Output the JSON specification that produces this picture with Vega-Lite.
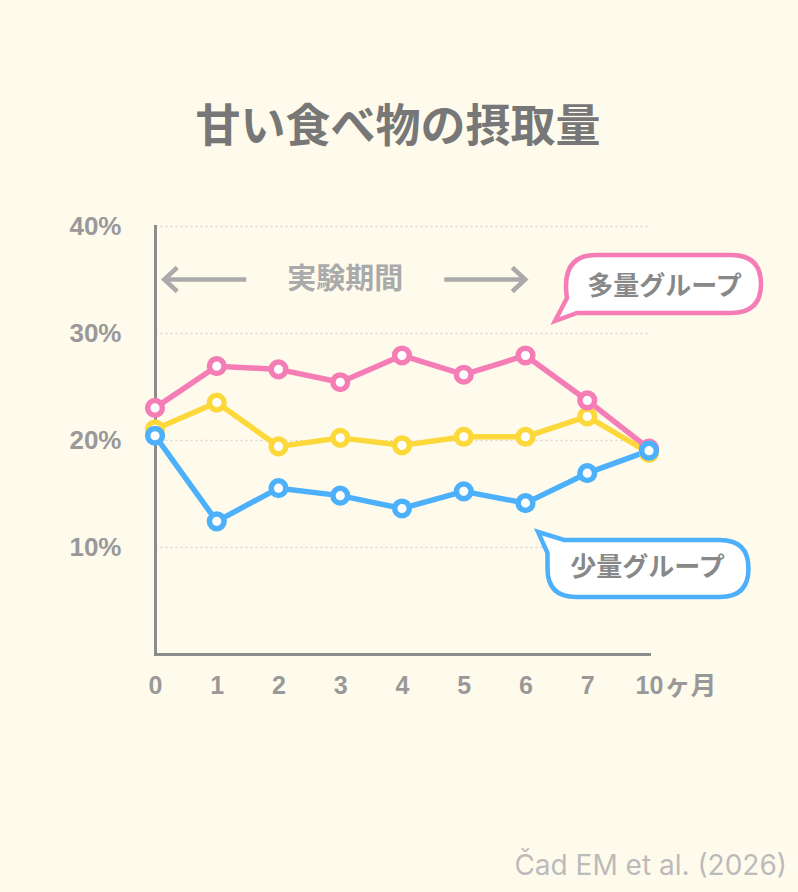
{
  "$schema": "https://vega.github.io/schema/vega-lite/v6.json",
  "description": "甘い食べ物の摂取量: three groups over 10 months",
  "autosize": {"type": "none"},
  "width": 494,
  "height": 428,
  "padding": {"left": 155, "top": 226, "right": 149, "bottom": 238},
  "background": "#fffbec",
  "config": {"view": {"stroke": null}},
  "title": {
    "text": "甘い食べ物の摂取量",
    "font": "Noto Sans CJK JP",
    "fontSize": 45,
    "fontWeight": "bold",
    "color": "#777777",
    "anchor": "middle",
    "frame": "group",
    "offset": 62,
    "dx": -4
  },
  "layer": [
    {
      "data": {
        "values": [
          {"month": 0, "group": "中間グループ", "value": 21.0},
          {"month": 1, "group": "中間グループ", "value": 23.5},
          {"month": 2, "group": "中間グループ", "value": 19.4},
          {"month": 3, "group": "中間グループ", "value": 20.2},
          {"month": 4, "group": "中間グループ", "value": 19.5},
          {"month": 5, "group": "中間グループ", "value": 20.3},
          {"month": 6, "group": "中間グループ", "value": 20.3},
          {"month": 7, "group": "中間グループ", "value": 22.2},
          {"month": 10, "group": "中間グループ", "value": 18.8},
          {"month": 0, "group": "多量グループ", "value": 23.0},
          {"month": 1, "group": "多量グループ", "value": 26.9},
          {"month": 2, "group": "多量グループ", "value": 26.6},
          {"month": 3, "group": "多量グループ", "value": 25.4},
          {"month": 4, "group": "多量グループ", "value": 27.9},
          {"month": 5, "group": "多量グループ", "value": 26.1},
          {"month": 6, "group": "多量グループ", "value": 27.9},
          {"month": 7, "group": "多量グループ", "value": 23.7},
          {"month": 10, "group": "多量グループ", "value": 19.2},
          {"month": 0, "group": "少量グループ", "value": 20.4},
          {"month": 1, "group": "少量グループ", "value": 12.4},
          {"month": 2, "group": "少量グループ", "value": 15.5},
          {"month": 3, "group": "少量グループ", "value": 14.8},
          {"month": 4, "group": "少量グループ", "value": 13.6},
          {"month": 5, "group": "少量グループ", "value": 15.2},
          {"month": 6, "group": "少量グループ", "value": 14.1},
          {"month": 7, "group": "少量グループ", "value": 16.9},
          {"month": 10, "group": "少量グループ", "value": 19.0}
        ]
      },
      "encoding": {
        "x": {
          "field": "month",
          "type": "ordinal",
          "scale": {"type": "point", "domain": [0, 1, 2, 3, 4, 5, 6, 7, 10], "padding": 0},
          "axis": {
            "title": "ヶ月",
            "titleX": 509,
            "titleY": 40,
            "titleAlign": "left",
            "titleBaseline": "alphabetic",
            "titleFont": "Noto Sans CJK JP",
            "titleFontSize": 26,
            "titleFontWeight": "bold",
            "titleColor": "#999999",
            "labelAngle": 0,
            "labelFont": "Liberation Sans",
            "labelFontSize": 25,
            "labelFontWeight": "bold",
            "labelColor": "#999999",
            "labelPadding": 19,
            "ticks": false,
            "tickSize": 0,
            "grid": false,
            "domainColor": "#8c8c8c",
            "domainWidth": 3,
            "domainCap": "square"
          }
        },
        "y": {
          "field": "value",
          "type": "quantitative",
          "scale": {"domain": [0, 40], "nice": false},
          "axis": {
            "title": null,
            "values": [10, 20, 30, 40],
            "labelExpr": "datum.value + '%'",
            "labelFont": "Liberation Sans",
            "labelFontSize": 26,
            "labelFontWeight": "bold",
            "labelColor": "#999999",
            "labelPadding": 34,
            "labelBaseline": "middle",
            "ticks": false,
            "tickSize": 0,
            "grid": true,
            "gridDash": [2, 3],
            "gridColor": "#d6d6d6",
            "gridWidth": 1.5,
            "domainColor": "#8c8c8c",
            "domainWidth": 3,
            "domainCap": "square"
          }
        }
      },
      "layer": [
        {
          "mark": {"type": "line", "strokeWidth": 5.5, "strokeJoin": "round"},
          "encoding": {
            "color": {
              "field": "group",
              "type": "nominal",
              "scale": {"domain": ["中間グループ", "多量グループ", "少量グループ"], "range": ["#fdd83a", "#f57db5", "#4db0fa"]},
              "legend": null
            }
          }
        },
        {
          "mark": {"type": "point", "filled": true, "fill": "white", "opacity": 1, "strokeWidth": 5.5, "size": 215},
          "encoding": {
            "stroke": {
              "field": "group",
              "type": "nominal",
              "scale": {"domain": ["中間グループ", "多量グループ", "少量グループ"], "range": ["#fdd83a", "#f57db5", "#4db0fa"]},
              "legend": null
            }
          }
        }
      ]
    },
    {
      "data": {"values": [{}]},
      "mark": {
        "type": "point",
        "shape": "M -9.4 0 L -17.6 0 M -16.3 -1.2 L -17.6 0 L -16.3 1.2 M 10.4 0 L 18.5 0 M 17.2 -1.2 L 18.5 0 L 17.2 1.2",
        "size": 400,
        "filled": false,
        "stroke": "#aaaaaa",
        "strokeWidth": 4.5,
        "strokeJoin": "miter",
        "opacity": 1
      },
      "encoding": {
        "x": {"datum": 3, "type": "ordinal"},
        "y": {"datum": 35, "type": "quantitative"}
      }
    },
    {
      "data": {"values": [{}]},
      "mark": {
        "type": "text",
        "text": "実験期間",
        "font": "Noto Sans CJK JP",
        "fontSize": 29,
        "fontWeight": "bold",
        "color": "#aaaaaa",
        "align": "center",
        "baseline": "middle",
        "dx": 5
      },
      "encoding": {
        "x": {"datum": 3, "type": "ordinal"},
        "y": {"datum": 35, "type": "quantitative"}
      }
    },
    {
      "data": {"values": [{}]},
      "mark": {
        "type": "point",
        "shape": "M -5.3 -2.9 L 8.2 -2.9 Q 11.2 -2.9 11.2 0 Q 11.2 2.9 8.2 2.9 L -7.2 2.9 L -9.4 3.7 L -8.2 1.4 Q -8.3 0.9 -8.3 0.2 Q -8.3 -2.9 -5.3 -2.9 Z",
        "size": 400,
        "filled": true,
        "fill": "white",
        "stroke": "#f57db5",
        "strokeWidth": 4.5,
        "strokeJoin": "miter",
        "opacity": 1
      },
      "encoding": {
        "x": {"datum": 10, "type": "ordinal"},
        "y": {"datum": 34.58, "type": "quantitative"}
      }
    },
    {
      "data": {"values": [{}]},
      "mark": {
        "type": "text",
        "text": "多量グループ",
        "font": "Noto Sans CJK JP",
        "fontSize": 26,
        "fontWeight": "bold",
        "color": "#888888",
        "align": "center",
        "baseline": "middle",
        "dx": 15.5
      },
      "encoding": {
        "x": {"datum": 10, "type": "ordinal"},
        "y": {"datum": 34.3, "type": "quantitative"}
      }
    },
    {
      "data": {"values": [{}]},
      "mark": {
        "type": "point",
        "shape": "M -8.5 -2.85 L 7.1 -2.85 Q 9.95 -2.85 9.95 0 Q 9.95 2.85 7.1 2.85 L -7.3 2.85 Q -10.15 2.85 -10.15 0 L -10.15 -1.55 L -11.1 -3.65 Z",
        "size": 400,
        "filled": true,
        "fill": "white",
        "stroke": "#4db0fa",
        "strokeWidth": 4.5,
        "strokeJoin": "miter",
        "opacity": 1
      },
      "encoding": {
        "x": {"datum": 10, "type": "ordinal"},
        "y": {"datum": 8, "type": "quantitative"}
      }
    },
    {
      "data": {"values": [{}]},
      "mark": {
        "type": "text",
        "text": "少量グループ",
        "font": "Noto Sans CJK JP",
        "fontSize": 26,
        "fontWeight": "bold",
        "color": "#888888",
        "align": "center",
        "baseline": "middle",
        "dx": -1.5
      },
      "encoding": {
        "x": {"datum": 10, "type": "ordinal"},
        "y": {"datum": 8, "type": "quantitative"}
      }
    },
    {
      "data": {"values": [{}]},
      "mark": {
        "type": "text",
        "text": "Čad EM et al. (2026)",
        "font": "Inter",
        "fontSize": 28,
        "color": "#bbbbbb",
        "align": "right",
        "baseline": "alphabetic",
        "dx": 138,
        "dy": 221
      },
      "encoding": {
        "x": {"datum": 10, "type": "ordinal"},
        "y": {"datum": 0, "type": "quantitative"}
      }
    }
  ]
}
